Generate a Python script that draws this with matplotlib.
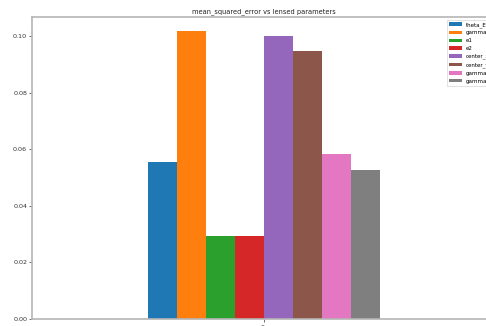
import numpy as np
import matplotlib
matplotlib.use("Agg")
import matplotlib.pyplot as plt

# mean squared error per lensed parameter (single evaluation run)
params = ["theta_E", "gamma", "e1", "e2", "center_x", "center_y", "gamma1", "gamma2"]
mse = [0.0556, 0.1016, 0.0292, 0.0292, 0.1000, 0.0947, 0.0583, 0.0528]
colors = ["#1f77b4", "#ff7f0e", "#2ca02c", "#d62728",
          "#9467bd", "#8c564b", "#e377c2", "#7f7f7f"]
runs = [0]

fig = plt.figure(figsize=(4.86, 3.26), dpi=100)
ax = fig.add_axes([32 / 486, 7 / 326, 464 / 486, 302 / 326])

n = len(params)
width = 0.5 / n
x = np.arange(len(runs))
for i, (name, val, c) in enumerate(zip(params, mse, colors)):
    ax.bar(x - 0.25 + width * (i + 0.5), [val], width, color=c, label=name)

ax.set_xlim(-0.5, 0.5)
ax.set_ylim(0, max(mse) * 1.05)
ax.set_xticks(x)
ax.set_xticklabels([str(r) for r in runs], rotation=90)
ax.set_yticks([0.0, 0.02, 0.04, 0.06, 0.08, 0.10])
ax.set_yticklabels(["0.00", "0.02", "0.04", "0.06", "0.08", "0.10"])
ax.tick_params(labelsize=4.6, length=2, width=0.5, pad=1.5, colors="#333333")

for s in ax.spines.values():
    s.set_color("#b5b5b5")
    s.set_linewidth(1.2)

ax.set_title("mean_squared_error vs lensed parameters", fontsize=4.8, pad=2.5, color="#222222")
leg = ax.legend(loc="upper right", fontsize=4.0, handlelength=2.2, handleheight=0.6,
                borderaxespad=0.5, framealpha=1.0, fancybox=False)
leg.get_frame().set_linewidth(0.4)
leg.get_frame().set_edgecolor("#cccccc")

fig.savefig("out.png", dpi=100)
